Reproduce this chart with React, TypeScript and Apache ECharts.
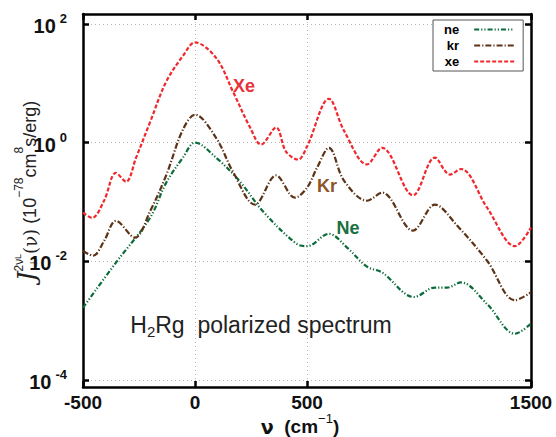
import * as echarts from "echarts";
import { useEffect, useRef } from "react";

// wavenumber (cm^-1) and intensity (10^-78 cm^8 s/erg)
const neNu = [-500, -353, -201, -129, -54, 0, 94, 201, 304, 451, 500, 598, 679, 768, 835, 978, 1071, 1125, 1187, 1304, 1429, 1500];
const neValues = [0.00165, 0.0095, 0.054, 0.21, 0.56, 1.0, 0.56, 0.22, 0.069, 0.02, 0.018, 0.029, 0.017, 0.0081, 0.0065, 0.0025, 0.0036, 0.0036, 0.0044, 0.0019, 0.0006, 0.00089];

const krNu = [-500, -455, -406, -353, -268, -201, -129, -54, 0, 94, 170, 268, 362, 446, 500, 545, 598, 665, 768, 835, 973, 1071, 1170, 1304, 1429, 1500];
const krValues = [0.015, 0.0124, 0.022, 0.048, 0.025, 0.069, 0.28, 1.66, 2.96, 1.21, 0.32, 0.09, 0.28, 0.118, 0.174, 0.38, 0.82, 0.23, 0.105, 0.144, 0.033, 0.09, 0.04, 0.0102, 0.0022, 0.003];

const xeNu = [-500, -460, -406, -353, -308, -263, -201, -129, -54, 0, 94, 170, 246, 295, 362, 406, 460, 500, 598, 665, 768, 835, 973, 1071, 1138, 1187, 1304, 1429, 1500];
const xeValues = [0.066, 0.054, 0.105, 0.31, 0.22, 0.56, 2.2, 10.6, 29, 49, 27, 7.2, 1.8, 0.93, 1.8, 0.71, 0.52, 0.86, 5.5, 1.6, 0.43, 0.82, 0.13, 0.56, 0.29, 0.36, 0.08, 0.018, 0.037];

const xTicks = [-500, 0, 500, 1500];
const yDecades = [-4, -2, 0, 2];
const legendNames = ["ne", "kr", "xe"];

const SANS = "'Liberation Sans', Arial, sans-serif";
const NE_COLOR = "#0b6b3a";
const KR_COLOR = "#5c3317";
const XE_COLOR = "#f0282d";

function toLogPairs(nu: number[], values: number[]) {
  return nu.map((x, i) => [x, Math.log10(values[i])]);
}

function frameAxis(extra: object) {
  return {
    type: "value",
    axisLine: { show: true, onZero: false, lineStyle: { color: "#000", width: 2.5 } },
    splitLine: { show: false },
    axisLabel: { show: false },
    ...extra,
  };
}

function getOption() {
  const tick = (values: number[]) => ({
    show: true,
    inside: true,
    length: 6,
    customValues: values,
    lineStyle: { color: "#000", width: 2.5 },
  });
  const grid = { show: true, lineStyle: { color: "#b4b4b4", width: 1, type: [1, 3] } };

  return {
    animation: false,
    grid: { left: 83, right: 25, top: 14, bottom: 50 },
    xAxis: [
      frameAxis({
        min: -500,
        max: 1500,
        position: "bottom",
        axisTick: tick(xTicks),
        splitLine: grid,
        axisLabel: {
          show: true,
          customValues: xTicks,
          formatter: (v: number) => String(v),
          fontFamily: SANS,
          fontSize: 19,
          fontWeight: "bold",
          color: "#111",
          margin: 6,
        },
      }),
      frameAxis({ min: -500, max: 1500, position: "top", axisTick: tick(xTicks) }),
    ],
    yAxis: [
      frameAxis({
        min: -4.12,
        max: 2.17,
        position: "left",
        axisTick: tick(yDecades),
        splitLine: grid,
        axisLabel: {
          show: true,
          customValues: yDecades,
          formatter: (v: number) => `{a|10}{s|${v}}`,
          margin: 16,
          rich: {
            a: { fontFamily: SANS, fontSize: 20, fontWeight: "bold", color: "#111", lineHeight: 24, verticalAlign: "bottom" },
            s: { fontFamily: SANS, fontSize: 13, fontWeight: "bold", color: "#111", lineHeight: 14, verticalAlign: "top", padding: [0, 0, 0, 4] },
          },
        },
      }),
      frameAxis({ min: -4.12, max: 2.17, position: "right", axisTick: tick(yDecades) }),
    ],
    legend: {
      data: legendNames,
      orient: "vertical",
      left: 433,
      top: 20,
      align: "right",
      itemWidth: 40,
      itemHeight: 10,
      itemGap: 3,
      padding: [3, 8, 3, 11],
      backgroundColor: "#fff",
      borderColor: "#555",
      borderWidth: 1,
      itemStyle: { color: "rgba(0,0,0,0)", borderWidth: 0, opacity: 0 },
      textStyle: { fontFamily: SANS, fontSize: 13, fontWeight: "bold", color: "#000", padding: [0, 10, 0, 0] },
    },
    series: [
      {
        name: "ne",
        type: "line",
        data: toLogPairs(neNu, neValues),
        smooth: 0.35,
        symbol: "none",
        itemStyle: { color: NE_COLOR },
        lineStyle: { color: NE_COLOR, width: 2.2, type: [5, 2, 1.2, 2, 1.2, 2] },
      },
      {
        name: "kr",
        type: "line",
        data: toLogPairs(krNu, krValues),
        smooth: 0.35,
        symbol: "none",
        itemStyle: { color: KR_COLOR },
        lineStyle: { color: KR_COLOR, width: 2.2, type: [6, 2, 1.2, 2] },
      },
      {
        name: "xe",
        type: "line",
        data: toLogPairs(xeNu, xeValues),
        smooth: 0.35,
        symbol: "none",
        itemStyle: { color: XE_COLOR },
        lineStyle: { color: XE_COLOR, width: 2.2, type: [4, 2] },
      },
    ],
    graphic: [
      {
        type: "text",
        x: 244,
        y: 86,
        style: { text: "Xe", fontFamily: SANS, fontSize: 18, fontWeight: "bold", fill: "#e8323a", align: "center", verticalAlign: "middle" },
      },
      {
        type: "text",
        x: 327,
        y: 186,
        style: { text: "Kr", fontFamily: SANS, fontSize: 18, fontWeight: "bold", fill: "#8b5527", align: "center", verticalAlign: "middle" },
      },
      {
        type: "text",
        x: 348,
        y: 228,
        style: { text: "Ne", fontFamily: SANS, fontSize: 18, fontWeight: "bold", fill: "#1a7040", align: "center", verticalAlign: "middle" },
      },
      {
        type: "text",
        x: 261,
        y: 326,
        style: {
          text: "{m|H}{b|2}{m|Rg  polarized spectrum}",
          align: "center",
          verticalAlign: "middle",
          rich: {
            m: { fontFamily: SANS, fontSize: 23, fill: "#222", lineHeight: 26, verticalAlign: "top" },
            b: { fontFamily: SANS, fontSize: 15, fill: "#222", lineHeight: 15, verticalAlign: "bottom" },
          },
        },
      },
      {
        type: "text",
        x: 300,
        y: 424,
        style: {
          text: "{v|ν}{n|  (cm}{s|−1}{n|)}",
          align: "center",
          verticalAlign: "middle",
          rich: {
            v: { fontFamily: "'DejaVu Sans', sans-serif", fontSize: 19, fontWeight: "bold", fill: "#111", lineHeight: 24, verticalAlign: "bottom" },
            n: { fontFamily: SANS, fontSize: 19, fontWeight: "bold", fill: "#111", lineHeight: 24, verticalAlign: "bottom" },
            s: { fontFamily: SANS, fontSize: 13, fill: "#111", lineHeight: 13, verticalAlign: "top" },
          },
        },
      },
      {
        type: "group",
        x: 26,
        y: 191,
        rotation: Math.PI / 2,
        children: [
          {
            type: "text",
            style: {
              text: "{j|J}{s|2ν}{ss|L}{m|(ν)}{n| (10}{s|−78}{n|cm}{s|8}{n|s/erg)}",
              align: "center",
              verticalAlign: "middle",
              rich: {
                j: { fontFamily: "'DejaVu Serif', serif", fontStyle: "italic", fontSize: 24, fill: "#222", lineHeight: 26, verticalAlign: "bottom" },
                m: { fontFamily: "'DejaVu Serif', serif", fontSize: 18, fill: "#222", lineHeight: 23, verticalAlign: "bottom" },
                n: { fontFamily: SANS, fontSize: 18, fill: "#222", lineHeight: 23, verticalAlign: "bottom" },
                s: { fontFamily: SANS, fontSize: 12, fill: "#222", lineHeight: 12, verticalAlign: "top" },
                ss: { fontFamily: SANS, fontSize: 9, fill: "#222", lineHeight: 12, verticalAlign: "top" },
              },
            },
          },
          {
            type: "text",
            x: -72,
            y: 7,
            style: { text: "⊥", fontFamily: "'DejaVu Sans', sans-serif", fontSize: 10, fill: "#444", align: "center", verticalAlign: "middle" },
          },
        ],
      },
    ],
  };
}

export default function App() {
  const containerRef = useRef<HTMLDivElement>(null);

  useEffect(() => {
    if (!containerRef.current) return;
    const chart = echarts.init(containerRef.current, undefined, { renderer: "svg" });
    chart.setOption(getOption() as any);
    return () => {
      chart.dispose();
    };
  }, []);

  return (
    <div
      ref={containerRef}
      style={{ position: "fixed", left: 0, top: 0, width: 556, height: 437, background: "#fff" }}
    />
  );
}
